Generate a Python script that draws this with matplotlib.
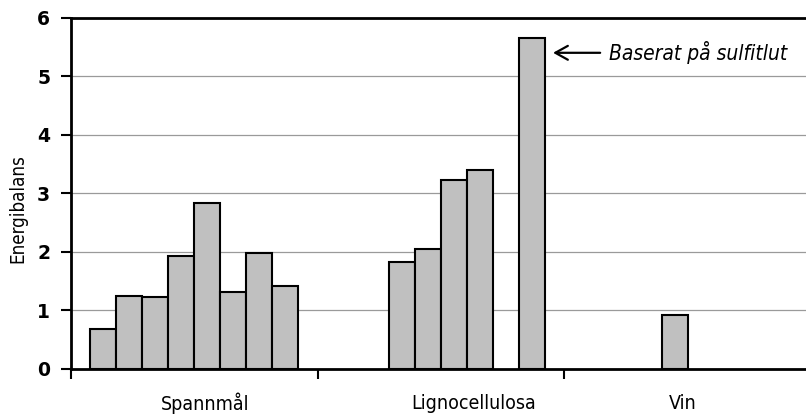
import matplotlib
matplotlib.use("Agg")
import matplotlib.pyplot as plt
import matplotlib.transforms as mtransforms

# Energy balance per study, grouped by feedstock (8 slots per group)
groups = ["Spannmål", "Lignocellulosa", "Vin"]
spannmal = [0.68, 1.25, 1.23, 1.92, 2.84, 1.31, 1.98, 1.42]
lignocellulosa = [None, None, 1.82, 2.05, 3.23, 3.40, None, 5.65]
vin = [None, None, None, 0.92, None, None, None, None]
series_by_group = [spannmal, lignocellulosa, vin]
yticks = [0, 1, 2, 3, 4, 5, 6]
note = "Baserat på sulfitlut"
ylabel = "Energibalans"

narrow = dict(family="DejaVu Sans", fontstretch="condensed")

W, H = 806, 416
fig = plt.figure(figsize=(W / 100, H / 100), dpi=100)
left_px, top_px, bottom_px = 71, 17.7, 368.7
group_px = 246.7
ax = fig.add_axes([left_px / W, 1 - bottom_px / H, 3 * group_px / W, (bottom_px - top_px) / H])

n_slots = 8
gap = 1.5
slot = 1.0 / (n_slots + gap)
offset = gap / 2 * slot

for gi, vals in enumerate(series_by_group):
    for j, v in enumerate(vals):
        if v is None:
            continue
        ax.bar(gi + offset + j * slot, v, width=slot, align="edge",
               color="#c0c0c0", edgecolor="black", linewidth=1.5, zorder=3)

ax.set_xlim(0, 3)
ax.set_ylim(0, 6)
ax.set_yticks(yticks)
ax.set_yticklabels([str(t) for t in yticks], fontweight="bold",
                   fontsize=13.5, family="DejaVu Sans")
ax.set_xticks([0, 1, 2, 3])
ax.set_xticklabels([])
ax.tick_params(axis="y", direction="out", length=7, width=1.5, pad=8)
ax.tick_params(axis="x", direction="out", length=7, width=1.5)

for y in yticks[1:-1]:
    ax.axhline(y, color="#9a9a9a", linewidth=0.9, zorder=1)

for side in ["left", "bottom", "top"]:
    ax.spines[side].set_linewidth(2)
    ax.spines[side].set_color("black")
ax.spines["right"].set_visible(False)

# Group labels below the axis
trans = mtransforms.blended_transform_factory(ax.transData, ax.transAxes)
label_x = [0.543, 1.634, 2.481]
for lx, name in zip(label_x, groups):
    ax.text(lx, -0.098, name, transform=trans, ha="center", va="center",
            fontsize=14, **narrow)

fig.text(18 / W, 1 - 209 / H, ylabel, rotation=90, ha="center", va="center",
         fontsize=13.5, **narrow)

# Callout for the tallest lignocellulose bar
ax.annotate("", xy=(1.954, 5.40), xytext=(2.145, 5.40),
            arrowprops=dict(arrowstyle="->,head_length=0.9,head_width=0.5",
                            lw=1.6, color="black", shrinkA=0, shrinkB=0))
ax.text(2.18, 5.40, note, ha="left", va="center", fontsize=15,
        style="italic", **narrow)

fig.savefig("out.png", dpi=100)
